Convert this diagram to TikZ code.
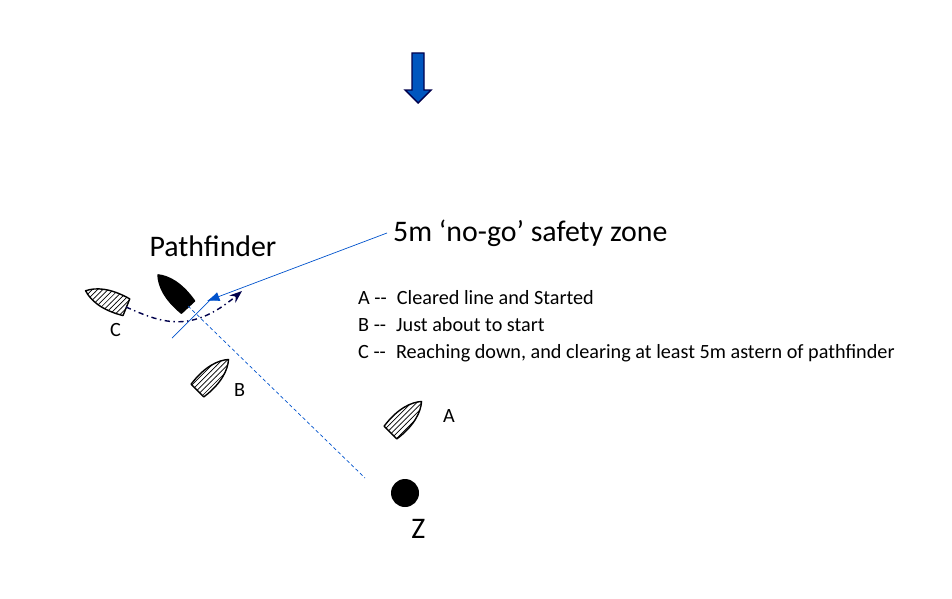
\documentclass[tikz,border=0pt]{standalone}
\usepackage{fontspec}
\setmainfont{Carlito}
\usetikzlibrary{arrows.meta,patterns,positioning}
\begin{document}
\begin{tikzpicture}[x=0.02cm,y=-0.02cm,
    hull/.style={draw=black, thick, line join=round},
    hatched/.style={hull, pattern=north east lines},
    solid boat/.style={hull, fill=black},
    lbl/.style={font=\fontsize{11.5}{13}\selectfont, anchor=west},
    zone/.style={draw=blue!60!cyan!80!black, thin},
    track/.style={draw=blue!30!black, thick, dash dot, -{Stealth[length=2.5mm]}}
]
\useasboundingbox (0,0) rectangle (952,598);

% boat outline, bow along +x in tikz frame
\tikzset{boat/.pic={\path[pic actions] (-22,-9) -- (-22,9) .. controls (0,12) and (14,7) .. (22,0) .. controls (14,-7) and (0,-12) .. (-22,-9) -- cycle;}}

% === wind arrow ===
\draw[fill=blue!55!cyan!75!black, draw=blue!30!black, thick]
    (412,53) -- (424,53) -- (424,90) -- (431,90) -- (418,103) -- (405,90) -- (412,90) -- cycle;

% === boats ===
\pic[hatched, rotate=158] (boatC) at (106,299) {boat};
\pic[solid boat, rotate=133] (pathf) at (173,291) {boat};
\pic[hatched, rotate=45] (boatB) at (213,375) {boat};
\pic[hatched, rotate=45] (boatA) at (406,417) {boat};
\coordinate (cstern) at (126,307);
\coordinate (pstern) at (188,306);

% === mark Z ===
\node[circle, fill=black, minimum size=28*0.02cm, inner sep=0pt] (markZ) at (405,493) {};
\node[font=\fontsize{17}{20}\selectfont, below right=0.2cm and -0.2cm of markZ] (zlabel) {Z};

% === labels ===
\node[font=\fontsize{17}{20}\selectfont] (pathlabel) at (213,246) {Pathfinder};
\node[font=\fontsize{17}{20}\selectfont, anchor=west] (zonelabel) at (387,233) {5m ‘no-go’ safety zone};
\node[lbl] (labC) at (104,330) {C};
\node[lbl] (labB) at (228,390) {B};
\node[lbl] (labA) at (437,416) {A};
\node[lbl] (legA) at (352,298) {A {-}{-}\enspace Cleared line and Started};
\node[lbl, below=0cm of legA.south west, anchor=north west] (legB) {B {-}{-}\enspace Just about to start};
\node[lbl, below=0cm of legB.south west, anchor=north west] (legC) {C {-}{-}\enspace Reaching down, and clearing at least 5m astern of pathfinder};

% === zone lines ===
\coordinate (zonetip) at (207,301);
\coordinate (lineend) at (172,338);
\coordinate (linetop) at (214,296);
\coordinate (dotend) at (365,478);
\draw[zone, -{Latex[length=2.5mm]}] (zonelabel.west) -- (zonetip);
\draw[zone] (lineend) -- (linetop);
\draw[zone, dashed, dash pattern=on 2pt off 1.5pt] (pstern) -- (dotend);

% === track of C ===
\coordinate (trackend) at (242,291);
\draw[track] (cstern) .. controls (160,322) and (190,335) .. (trackend);
\end{tikzpicture}
\end{document}
